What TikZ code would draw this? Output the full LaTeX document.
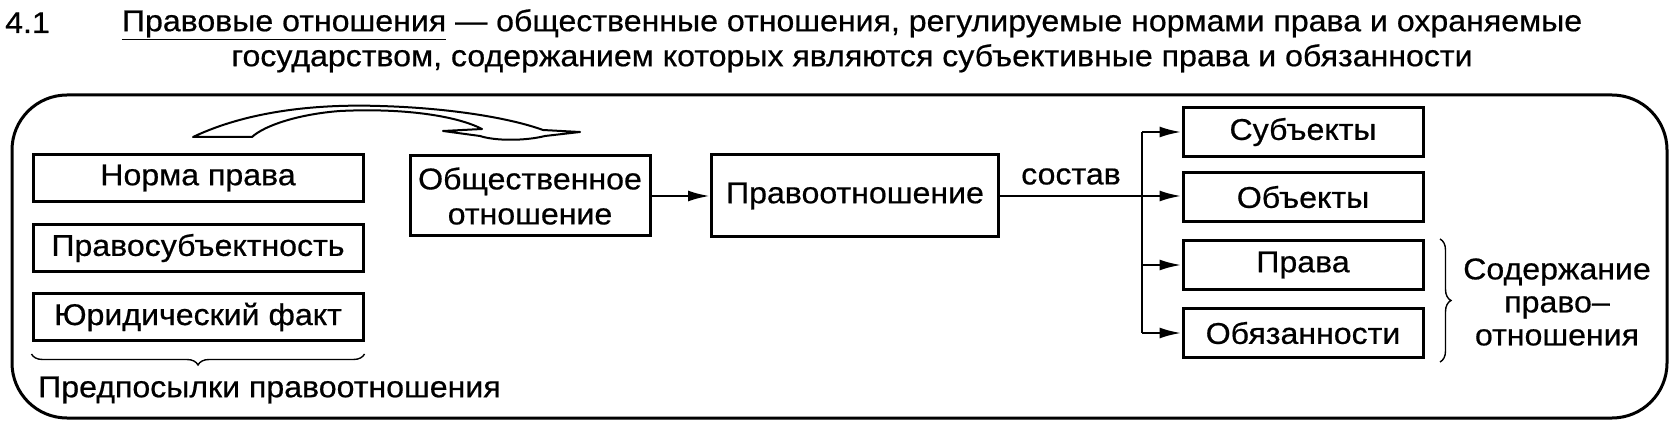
\documentclass[tikz,border=0pt]{standalone}
\usepackage{fontspec}
\setmainfont[FakeStretch=1.07, FakeBold=0.6]{Liberation Sans}
\usepackage{tikz}
\usetikzlibrary{arrows.meta, decorations.pathreplacing}
\tikzset{
    txt/.style={inner sep=0pt, font=\fontsize{30}{35}\selectfont},
    block/.style={rectangle, draw=black, line width=3pt, minimum width=330pt, minimum height=47pt, inner sep=0pt, align=center, font=\fontsize{30}{35}\selectfont},
    part/.style={block, minimum width=240pt, minimum height=49pt},
    arrow/.style={line width=2.6pt, -{Latex[length=22pt, width=11pt]}},
    link/.style={line width=2.6pt},
    bracket/.style={line width=1.4pt, decorate, decoration={brace, amplitude=11pt}}
}

\begin{document}
\begin{tikzpicture}[x=1pt, y=-1pt]
    \useasboundingbox (0,0) rectangle (1672,430);

    % Heading
    \node[txt, anchor=base west] (num) at (5,33) {4.1};
    \node[txt, anchor=north, align=center] (head) at (852,9) {\underline{Правовые отношения} --- общественные отношения, регулируемые нормами права и охраняемые\\государством, содержанием которых являются субъективные права и обязанности};

    % Frame
    \draw[line width=3pt, rounded corners=55pt] (12,95) rectangle (1667,418);

    % Prerequisites (left column)
    \node[block] (norm) at (198,178) {Норма права};
    \node[block] (pers) at (198,248) {Правосубъектность};
    \node[block] (fact) at (198,317) {Юридический факт};
    \draw[bracket] (fact.south east) ++(0,12) coordinate (bre) -- (bre -| fact.west);
    \node[txt, anchor=west] (pre) at (38,390) {Предпосылки правоотношения};

    % Curved arrow over the left column
    \draw[line width=2pt, line join=round, fill=white] (193,137) .. controls (250,110) and (320,104) .. (380,106) .. controls (450,108) and (510,118) .. (543,130) -- (580,132) -- (545,136) .. controls (525,141) and (495,141) .. (480,136) -- (443,131) -- (482,129) .. controls (455,115) and (400,108) .. (340,111) .. controls (300,114) and (265,125) .. (252,137) -- cycle;

    % Middle row
    \node[block, minimum width=240pt, minimum height=80pt] (soc) at (530,196) {Общественное\\отношение};
    \node[block, minimum width=287pt, minimum height=82pt] (rel) at (855,196) {Правоотношение};
    \draw[arrow] (soc) -- (rel);

    % Composition (right column)
    \node[part] (subj) at (1303,132) {Субъекты};
    \node[part] (obj) at (1303,197) {Объекты};
    \node[part] (right) at (1303,265) {Права};
    \node[part] (duty) at (1303,333) {Обязанности};
    \coordinate (trunk) at (1142,196);
    \draw[link] (rel.east) -- (trunk) node[txt, midway, above=10pt] (comp) {состав};
    \draw[link] (subj.west -| trunk) -- (duty.west -| trunk);
    \draw[arrow] (trunk) -- (obj.west |- trunk);
    \foreach \b in {subj, right, duty}
        \draw[arrow] (\b.west -| trunk) -- (\b.west);

    % Content of the relation
    \draw[bracket] (1440,239) -- (1440,362);
    \node[txt, align=center, font=\fontsize{30}{33}\selectfont] (cont) at (1557,302) {Содержание\\право--\\отношения};
\end{tikzpicture}
\end{document}
